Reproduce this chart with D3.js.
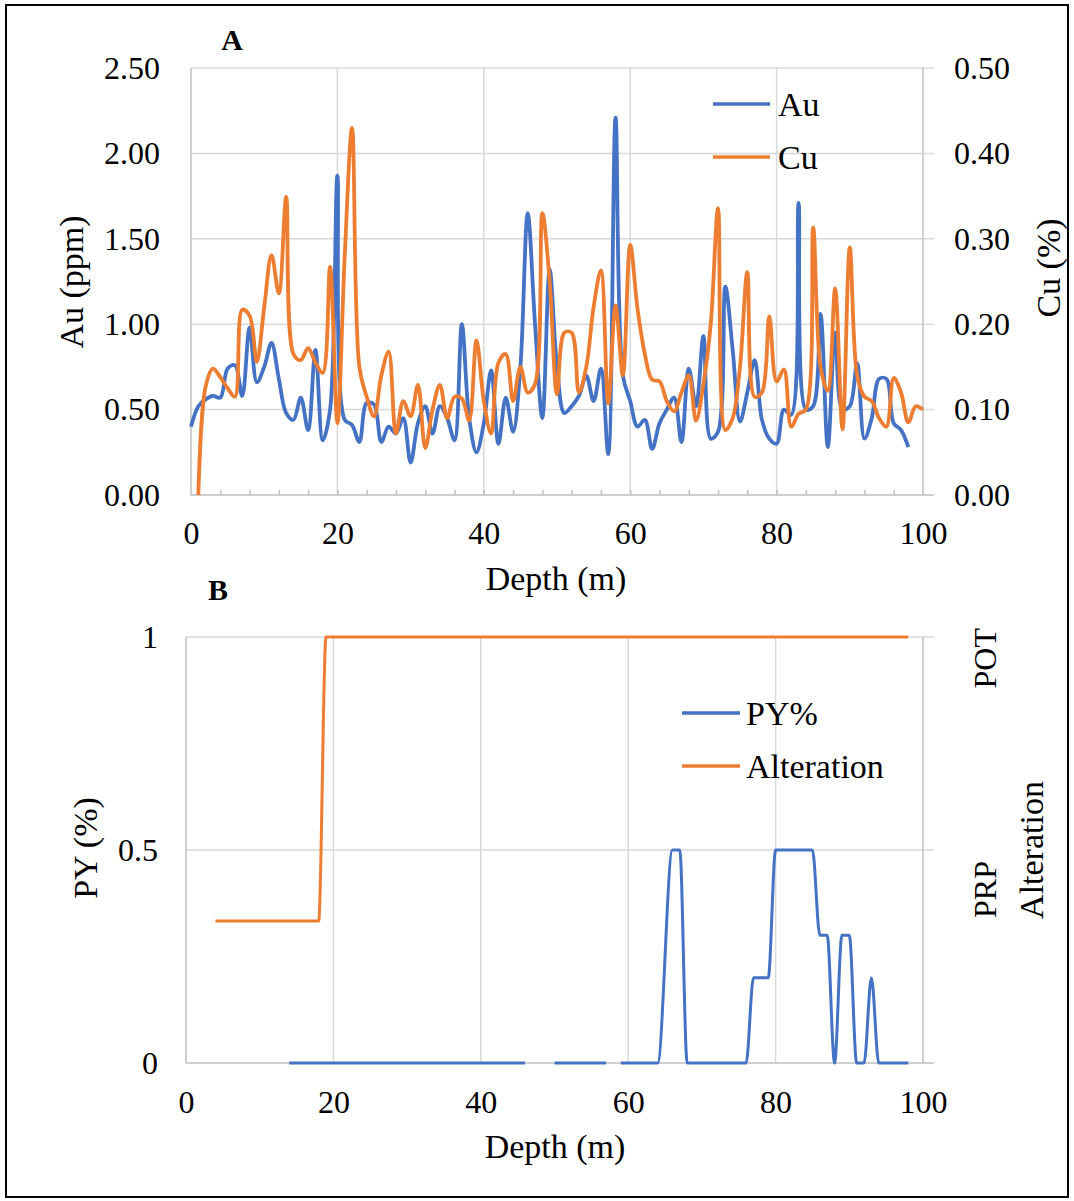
<!DOCTYPE html>
<html>
<head>
<meta charset="utf-8">
<script src="https://cdn.jsdelivr.net/npm/d3@7"></script>
<style>
  body { margin: 0; background: #fff; }
  text { font-family: "Liberation Serif", "Times New Roman", serif; fill: #000; }
</style>
</head>
<body>
<div id="chart"></div>
<script>
// ---- data ----
const auDepth = [0,1,2,3,4,5,6,7,8,9,10,11,12,13,14,15,16,17,18,19,20,21,22,23,24,25,26,27,28,29,30,31,32,33,34,35,36,37,38,39,40,41,42,43,44,45,46,47,48,49,50,51,52,53,54,55,56,57,58,59,60,61,62,63,64,65,66,67,68,69,70,71,72,73,74,75,76,77,78,79,80,81,82,83,84,85,86,87,88,89,90,91,92,93,94,95,96,97,98];
const auPpm = [0.40,0.52,0.56,0.58,0.57,0.74,0.76,0.58,0.98,0.66,0.75,0.89,0.68,0.48,0.44,0.57,0.38,0.85,0.32,0.50,
  1.87,0.44,0.41,0.31,0.54,0.53,0.31,0.40,0.36,0.45,0.19,0.42,0.52,0.36,0.52,0.45,0.32,1.00,0.45,0.25,
  0.42,0.73,0.30,0.57,0.37,0.75,1.65,1.00,0.45,1.32,0.75,0.48,0.52,0.58,0.70,0.55,0.74,0.24,2.21,0.70,
  0.55,0.40,0.44,0.27,0.42,0.50,0.57,0.31,0.74,0.52,0.93,0.33,0.37,1.22,0.85,0.43,0.60,0.79,0.44,0.33,
  0.30,0.50,0.47,1.71,0.50,0.52,1.06,0.28,0.95,0.50,0.52,0.77,0.33,0.45,0.68,0.68,0.42,0.38,0.28];

const cuDepth = [1,2,3,4,5,6,7,8,9,10,11,12,13,14,15,16,17,18,19,20,21,22,23,24,25,26,27,28,29,30,31,32,33,34,35,36,37,38,39,40,41,42,43,44,45,46,47,48,49,50,51,52,53,54,55,56,57,58,59,60,61,62,63,64,65,66,67,68,69,70,71,72,73,74,75,76,77,78,79,80,81,82,83,84,85,86,87,88,89,90,91,92,93,94,95,96,97,98,99,100];
const cuPct = [0.000,0.127,0.148,0.138,0.125,0.115,0.217,0.210,0.156,0.220,0.281,0.236,0.349,0.165,0.158,0.172,0.155,0.143,0.267,0.084,
  0.280,0.430,0.150,0.115,0.092,0.140,0.168,0.072,0.110,0.092,0.129,0.055,0.100,0.129,0.090,0.115,0.113,0.087,0.181,0.110,
  0.072,0.155,0.165,0.110,0.150,0.120,0.130,0.330,0.250,0.118,0.190,0.190,0.120,0.150,0.220,0.263,0.107,0.222,0.140,0.293,
  0.218,0.165,0.135,0.133,0.110,0.098,0.120,0.140,0.087,0.130,0.200,0.336,0.076,0.090,0.150,0.261,0.115,0.120,0.209,0.133,
  0.147,0.080,0.095,0.100,0.313,0.150,0.122,0.242,0.077,0.290,0.140,0.115,0.110,0.090,0.080,0.137,0.120,0.085,0.104,0.100];

// PY% readings; null = no data (gap in the line)
const pyDepth = [14,46,48,50,57,58,59,64,66,67,68,76,77,79,80,85,86,87,88,89,90,91,92,93,94,98];
const pyPct   = [0,0,null,0,0,null,0,0,0.5,0.5,0,0,0.2,0.2,0.5,0.5,0.3,0.3,0,0.3,0.3,0,0,0.2,0,0];

// Alteration: PRP plotted at 1/3, POT at 1
const altDepth = [4,18,19,98];
const altValue = [1/3,1/3,1,1];
const altLevels = ["PRP","POT"];

const auTicks = [0,0.5,1,1.5,2,2.5];
const cuTicks = [0,0.1,0.2,0.3,0.4,0.5];
const depthTicks = [0,20,40,60,80,100];
const pyTicks = [0,0.5,1];

// ---- drawing ----
const BLUE = '#4472C4', ORANGE = '#ED7D31', GRID = '#d9d9d9', AXIS = '#bfbfbf';
const svg = d3.select('#chart').append('svg').attr('width', 1074).attr('height', 1201);

svg.append('rect').attr('x', 6).attr('y', 5).attr('width', 1062).attr('height', 1192)
  .attr('fill', 'none').attr('stroke', '#000').attr('stroke-width', 2);

function styleAxis(sel, size) {
  sel.select('.domain').remove();
  sel.selectAll('.tick line').attr('stroke', GRID).attr('stroke-width', 1.5);
  sel.selectAll('.tick text').style('font-size', size + 'px')
    .style('font-family', '"Liberation Serif", "Times New Roman", serif').attr('fill', '#000');
}

// ===== Panel A =====
const xA = d3.scaleLinear().domain([0, 100]).range([191, 923]);
const yAu = d3.scaleLinear().domain([0, 2.5]).range([495, 68]);
const yCu = d3.scaleLinear().domain([0, 0.5]).range([495, 68]);
const gA = svg.append('g');

gA.append('g').selectAll('line').data(auTicks.slice(1)).join('line')
  .attr('x1', xA(0)).attr('x2', xA(100) + 11).attr('y1', d => yAu(d)).attr('y2', d => yAu(d))
  .attr('stroke', GRID).attr('stroke-width', 1.5);
gA.append('g').selectAll('line').data(depthTicks.slice(1, 5)).join('line')
  .attr('x1', d => xA(d)).attr('x2', d => xA(d)).attr('y1', yAu(2.5)).attr('y2', yAu(0))
  .attr('stroke', GRID).attr('stroke-width', 1.5);
// axis frame lines
gA.append('line').attr('x1', xA(0)).attr('x2', xA(0)).attr('y1', yAu(2.5)).attr('y2', yAu(0)).attr('stroke', AXIS).attr('stroke-width', 1.5);
gA.append('line').attr('x1', xA(100)).attr('x2', xA(100)).attr('y1', yAu(2.5)).attr('y2', yAu(0)).attr('stroke', AXIS).attr('stroke-width', 1.5);
gA.append('line').attr('x1', xA(0)).attr('x2', xA(100) + 11).attr('y1', yAu(0)).attr('y2', yAu(0)).attr('stroke', AXIS).attr('stroke-width', 1.5);

gA.append('g').attr('transform', `translate(${xA(0)},0)`)
  .call(d3.axisLeft(yAu).tickValues(auTicks).tickFormat(d3.format('.2f')).tickSize(0).tickPadding(31))
  .call(s => styleAxis(s, 32));
gA.append('g').attr('transform', `translate(${xA(100)},0)`)
  .call(d3.axisRight(yCu).tickValues(cuTicks).tickFormat(d3.format('.2f')).tickSize(0).tickPadding(31))
  .call(s => styleAxis(s, 32));
gA.append('g').attr('transform', `translate(0,${yAu(0)})`)
  .call(d3.axisBottom(xA).tickValues(depthTicks).tickSize(0).tickPadding(26))
  .call(s => styleAxis(s, 32));
// minor ticks on the depth axis
gA.append('g').attr('transform', `translate(0,${yAu(0)})`)
  .call(d3.axisBottom(xA).tickValues(d3.range(4, 100, 4)).tickSize(-5).tickFormat(''))
  .call(s => { s.select('.domain').remove(); s.selectAll('.tick line').attr('stroke', AXIS).attr('stroke-width', 1.5); });

const lineAu = d3.line().x((d, i) => xA(auDepth[i])).y(d => yAu(d)).curve(d3.curveCatmullRom.alpha(0.5));
const lineCu = d3.line().x((d, i) => xA(cuDepth[i])).y(d => yCu(d)).curve(d3.curveCatmullRom.alpha(0.5));
gA.append('path').attr('d', lineAu(auPpm)).attr('fill', 'none').attr('stroke', BLUE).attr('stroke-width', 3.8).attr('stroke-linejoin', 'round');
gA.append('path').attr('d', lineCu(cuPct)).attr('fill', 'none').attr('stroke', ORANGE).attr('stroke-width', 3.8).attr('stroke-linejoin', 'round');

// legend A
[{name: 'Au', c: BLUE, y: 104}, {name: 'Cu', c: ORANGE, y: 157}].forEach(l => {
  gA.append('line').attr('x1', 713).attr('x2', 770).attr('y1', l.y).attr('y2', l.y).attr('stroke', l.c).attr('stroke-width', 3.5);
  gA.append('text').attr('x', 778).attr('y', l.y).attr('dy', '0.35em').style('font-size', '34px').text(l.name);
});

gA.append('text').attr('x', 232).attr('y', 50).attr('text-anchor', 'middle').style('font-size', '30px').style('font-weight', 'bold').text('A');
gA.append('text').attr('x', 556).attr('y', 590).attr('text-anchor', 'middle').style('font-size', '34px').text('Depth (m)');
gA.append('text').attr('transform', 'translate(83,282) rotate(-90)').attr('text-anchor', 'middle').style('font-size', '34px').text('Au (ppm)');
gA.append('text').attr('transform', 'translate(1060,268) rotate(-90)').attr('text-anchor', 'middle').style('font-size', '34px').text('Cu (%)');

// ===== Panel B =====
const xB = d3.scaleLinear().domain([0, 100]).range([186, 923]);
const yB = d3.scaleLinear().domain([0, 1]).range([1063, 637]);
const gB = svg.append('g');

gB.append('g').selectAll('line').data(pyTicks.slice(1)).join('line')
  .attr('x1', xB(0)).attr('x2', xB(100) + 11).attr('y1', d => yB(d)).attr('y2', d => yB(d))
  .attr('stroke', GRID).attr('stroke-width', 1.5);
gB.append('g').selectAll('line').data(depthTicks.slice(1, 5)).join('line')
  .attr('x1', d => xB(d)).attr('x2', d => xB(d)).attr('y1', yB(1)).attr('y2', yB(0))
  .attr('stroke', GRID).attr('stroke-width', 1.5);
gB.append('line').attr('x1', xB(0)).attr('x2', xB(0)).attr('y1', yB(1)).attr('y2', yB(0)).attr('stroke', AXIS).attr('stroke-width', 1.5);
gB.append('line').attr('x1', xB(100)).attr('x2', xB(100)).attr('y1', yB(1)).attr('y2', yB(0)).attr('stroke', AXIS).attr('stroke-width', 1.5);
gB.append('line').attr('x1', xB(0)).attr('x2', xB(100) + 11).attr('y1', yB(0)).attr('y2', yB(0)).attr('stroke', AXIS).attr('stroke-width', 1.5);

gB.append('g').attr('transform', `translate(${xB(0)},0)`)
  .call(d3.axisLeft(yB).tickValues(pyTicks).tickFormat(d => String(d)).tickSize(0).tickPadding(28))
  .call(s => styleAxis(s, 32));
gB.append('g').attr('transform', `translate(0,${yB(0)})`)
  .call(d3.axisBottom(xB).tickValues(depthTicks).tickSize(0).tickPadding(27))
  .call(s => styleAxis(s, 32));

const linePy = d3.line().defined(d => d != null).x((d, i) => xB(pyDepth[i])).y(d => yB(d)).curve(d3.curveMonotoneX);
const lineAlt = d3.line().x((d, i) => xB(altDepth[i])).y(d => yB(d)).curve(d3.curveMonotoneX);
gB.append('path').attr('d', lineAlt(altValue)).attr('fill', 'none').attr('stroke', ORANGE).attr('stroke-width', 3);
gB.append('path').attr('d', linePy(pyPct)).attr('fill', 'none').attr('stroke', BLUE).attr('stroke-width', 3);

// alteration category labels on the right
gB.append('text').attr('transform', `translate(996,${yB(1 / 3) - 3}) rotate(-90)`).attr('text-anchor', 'start').style('font-size', '32px').text(altLevels[0]);
gB.append('text').attr('transform', `translate(996,${yB(1) - 9}) rotate(-90)`).attr('text-anchor', 'end').style('font-size', '32px').text(altLevels[1]);

// legend B
[{name: 'PY%', c: BLUE, y: 713}, {name: 'Alteration', c: ORANGE, y: 766}].forEach(l => {
  gB.append('line').attr('x1', 682).attr('x2', 740).attr('y1', l.y).attr('y2', l.y).attr('stroke', l.c).attr('stroke-width', 3.5);
  gB.append('text').attr('x', 746).attr('y', l.y).attr('dy', '0.35em').style('font-size', '34px').text(l.name);
});

gB.append('text').attr('x', 218).attr('y', 600).attr('text-anchor', 'middle').style('font-size', '30px').style('font-weight', 'bold').text('B');
gB.append('text').attr('x', 555).attr('y', 1158).attr('text-anchor', 'middle').style('font-size', '34px').text('Depth (m)');
gB.append('text').attr('transform', 'translate(97,848) rotate(-90)').attr('text-anchor', 'middle').style('font-size', '34px').text('PY (%)');
gB.append('text').attr('transform', 'translate(1043,850) rotate(-90)').attr('text-anchor', 'middle').style('font-size', '34px').text('Alteration');
</script>
</body>
</html>
